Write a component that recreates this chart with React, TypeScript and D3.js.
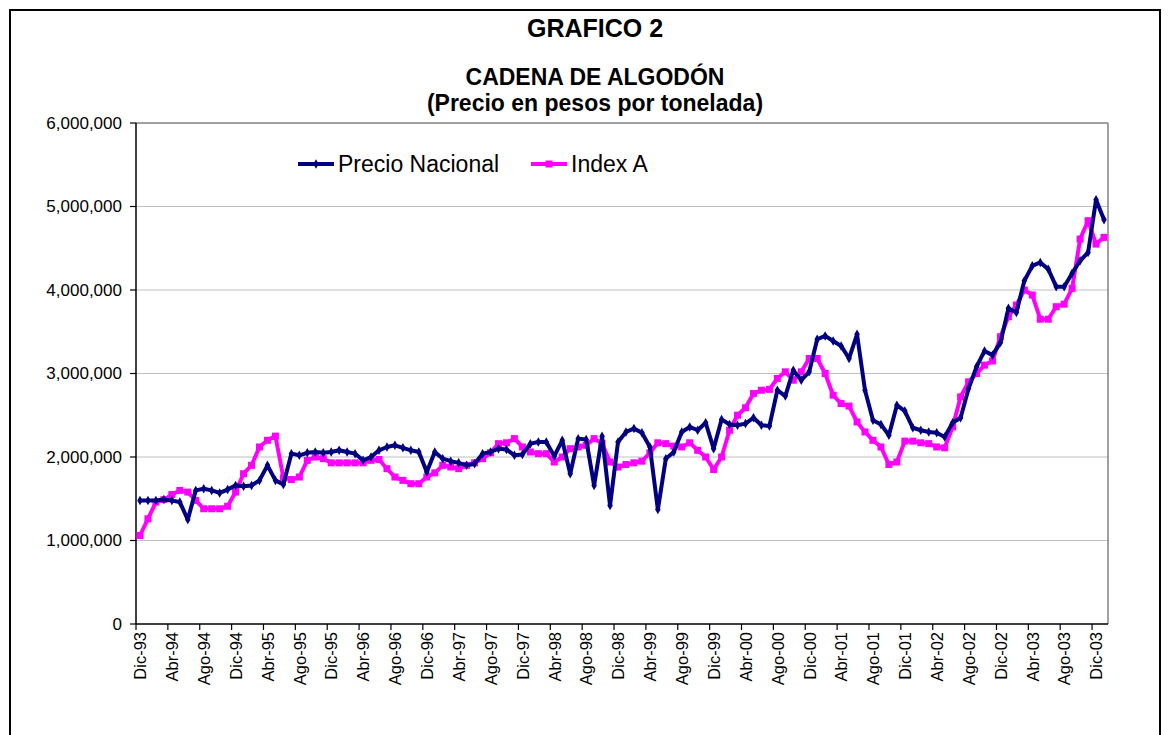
import React from 'react';
import * as d3 from 'd3';

const monthNames = ['Ene', 'Feb', 'Mar', 'Abr', 'May', 'Jun', 'Jul', 'Ago', 'Sep', 'Oct', 'Nov', 'Dic'];
// Monthly categories Dic-93 .. Ene-04
const categories: string[] = [];
for (let k = 0; k < 122; k++) {
  const m = (11 + k) % 12;
  const yy = (93 + Math.floor((11 + k) / 12)) % 100;
  categories.push(`${monthNames[m]}-${String(yy).padStart(2, '0')}`);
}

const precioNacional = [
  1480000, 1480000, 1480000, 1490000, 1480000, 1460000, 1250000, 1600000, 1620000, 1600000,
  1570000, 1610000, 1660000, 1650000, 1660000, 1720000, 1900000, 1720000, 1670000, 2040000,
  2020000, 2050000, 2060000, 2050000, 2060000,
  2080000, 2060000, 2040000, 1960000, 2000000, 2080000, 2120000, 2140000, 2110000, 2080000,
  2060000, 1820000, 2060000, 1980000, 1950000, 1930000, 1900000, 1920000, 2040000, 2060000,
  2100000, 2090000, 2020000, 2030000,
  2160000, 2180000, 2180000, 2010000, 2200000, 1800000, 2220000, 2210000, 1660000, 2250000,
  1420000, 2180000, 2300000, 2340000, 2290000, 2120000, 1370000, 1980000, 2060000, 2300000,
  2360000, 2320000, 2410000, 2100000, 2450000,
  2390000, 2380000, 2400000, 2470000, 2380000, 2370000, 2800000, 2730000, 3040000, 2920000,
  3020000, 3410000, 3450000, 3390000, 3330000, 3180000, 3470000, 2800000, 2440000, 2390000,
  2260000, 2620000, 2550000, 2350000, 2320000,
  2300000, 2290000, 2240000, 2410000, 2470000, 2820000, 3080000, 3270000, 3220000, 3370000,
  3780000, 3730000, 4110000, 4290000, 4330000, 4250000, 4040000, 4040000, 4200000, 4350000,
  4450000, 5080000, 4840000,
];

const indexA = [
  1060000, 1260000, 1460000, 1490000, 1550000, 1600000, 1580000, 1480000, 1380000, 1380000,
  1380000, 1410000, 1580000, 1800000, 1900000, 2120000, 2200000, 2250000, 1750000, 1730000,
  1760000, 1960000, 2000000, 1980000, 1930000,
  1930000, 1930000, 1930000, 1930000, 1960000, 1970000, 1860000, 1760000, 1720000, 1680000,
  1680000, 1760000, 1810000, 1900000, 1880000, 1860000, 1900000, 1930000, 1980000, 2050000,
  2160000, 2170000, 2220000, 2120000,
  2060000, 2040000, 2040000, 1940000, 2000000, 2100000, 2120000, 2140000, 2220000, 2160000,
  1940000, 1880000, 1910000, 1930000, 1950000, 2050000, 2170000, 2160000, 2130000, 2120000,
  2170000, 2080000, 2000000, 1850000, 2000000,
  2320000, 2500000, 2590000, 2760000, 2800000, 2810000, 2940000, 3020000, 2920000, 3020000,
  3180000, 3180000, 3000000, 2740000, 2640000, 2610000, 2420000, 2300000, 2200000, 2120000,
  1910000, 1940000, 2190000, 2190000, 2170000,
  2160000, 2120000, 2110000, 2360000, 2720000, 2900000, 3000000, 3100000, 3150000, 3440000,
  3680000, 3820000, 4000000, 3940000, 3650000, 3650000, 3800000, 3830000, 4020000, 4610000,
  4830000, 4550000, 4630000,
];

const yTicks = [0, 1000000, 2000000, 3000000, 4000000, 5000000, 6000000];
const seriesNames = ['Precio Nacional', 'Index A'];
const titleText = 'GRAFICO 2';
const subtitle1 = 'CADENA DE ALGODÓN';
const subtitle2 = '(Precio en pesos por tonelada)';

const W = 1169;
const H = 735;
const FONT = "'Liberation Sans', Arial, Helvetica, sans-serif";
const NAVY = '#000080';
const PINK = '#FF00FF';

export default function App() {
  const left = 136, right = 1108, top = 123, bottom = 624;
  const x = d3.scaleBand<string>().domain(categories).range([left, right]).padding(0);
  const bw = x.bandwidth();
  const y = d3.scaleLinear().domain([0, 6000000]).range([bottom, top]);
  const cx = (i: number) => (x(categories[i]) as number) + bw / 2;
  const line = d3.line<number>().x((_, i) => cx(i)).y(d => y(d));
  const fmt = d3.format(',');
  const diamond = d3.symbol().type(d3.symbolDiamond).size(26)() as string;
  const sq = 7;

  const tickIdx = categories.map((_, i) => i).filter(i => i % 4 === 0);

  return (
    <svg width={W} height={H} style={{ position: 'absolute', left: 0, top: 0, background: '#fff' }} fontFamily={FONT}>
      <rect x={0} y={0} width={W} height={H} fill="#fff" />
      <rect x={10} y={10} width={1150} height={760} fill="none" stroke="#000" strokeWidth={2} />

      <text x={595} y={37} textAnchor="middle" fontSize={25} fontWeight="bold">{titleText}</text>
      <text x={595} y={85} textAnchor="middle" fontSize={23} fontWeight="bold">{subtitle1}</text>
      <text x={595} y={111} textAnchor="middle" fontSize={23} fontWeight="bold">{subtitle2}</text>

      {/* gridlines */}
      {yTicks.filter(t => t > 0 && t < 6000000).map(t => (
        <line key={t} x1={left} x2={right} y1={y(t)} y2={y(t)} stroke="#C0C0C0" strokeWidth={1.2} />
      ))}
      {/* plot border top/right */}
      <line x1={left} x2={right} y1={top} y2={top} stroke="#808080" strokeWidth={1.5} />
      <line x1={right} x2={right} y1={top} y2={bottom} stroke="#808080" strokeWidth={1.5} />

      {/* y axis */}
      <line x1={left} x2={left} y1={top} y2={bottom} stroke="#000" strokeWidth={1.5} />
      {yTicks.map(t => (
        <g key={t}>
          <line x1={left - 6} x2={left} y1={y(t)} y2={y(t)} stroke="#000" strokeWidth={1.2} />
          <text x={122} y={y(t)} dy="0.35em" textAnchor="end" fontSize={17}>{fmt(t)}</text>
        </g>
      ))}

      {/* x axis */}
      <line x1={left} x2={right} y1={bottom} y2={bottom} stroke="#000" strokeWidth={1.5} />
      {tickIdx.map(i => (
        <g key={i}>
          <line x1={x(categories[i]) as number} x2={x(categories[i]) as number} y1={bottom} y2={bottom + 6} stroke="#000" strokeWidth={1.2} />
          <text transform={`translate(${cx(i) + 0.5},${bottom + 8}) rotate(-90)`} dy="0.35em" textAnchor="end" fontSize={16.5}>{categories[i]}</text>
        </g>
      ))}

      {/* Index A */}
      <path d={line(indexA) as string} fill="none" stroke={PINK} strokeWidth={4} strokeLinejoin="round" />
      {indexA.map((v, i) => (
        <rect key={i} x={cx(i) - sq / 2} y={y(v) - sq / 2} width={sq} height={sq} fill={PINK} />
      ))}

      {/* Precio Nacional */}
      <path d={line(precioNacional) as string} fill="none" stroke={NAVY} strokeWidth={4} strokeLinejoin="round" />
      {precioNacional.map((v, i) => (
        <path key={i} d={diamond} transform={`translate(${cx(i)},${y(v)})`} fill={NAVY} />
      ))}

      {/* legend */}
      <g>
        <line x1={298} x2={334} y1={164} y2={164} stroke={NAVY} strokeWidth={4} />
        <path d={diamond} transform="translate(316,164)" fill={NAVY} />
        <text x={338} y={164} dy="0.35em" fontSize={23}>{seriesNames[0]}</text>
        <line x1={531} x2={567} y1={164} y2={164} stroke={PINK} strokeWidth={4} />
        <rect x={549 - sq / 2} y={164 - sq / 2} width={sq} height={sq} fill={PINK} />
        <text x={571} y={164} dy="0.35em" fontSize={23}>{seriesNames[1]}</text>
      </g>
    </svg>
  );
}
